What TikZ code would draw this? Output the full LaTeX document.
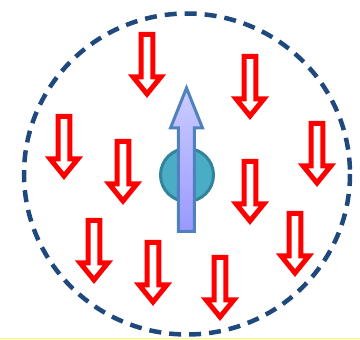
\documentclass[tikz,border=0pt]{standalone}
\usetikzlibrary{calc}
\definecolor{rimC}{HTML}{1F497D}
\definecolor{fieldR}{HTML}{FF0000}
\definecolor{coreF}{HTML}{4BACC6}
\definecolor{coreD}{HTML}{31849B}
\definecolor{spinD}{HTML}{4F81BD}
\definecolor{spinT}{HTML}{CCCCFF}
\definecolor{spinB}{HTML}{9999FF}
\definecolor{baseY}{HTML}{FFFF66}
\tikzset{
  rim/.style={draw=rimC, line width=4.5pt, dash pattern=on 12pt off 8pt},
  fieldarr/.style={draw=fieldR, fill=white, line width=5pt, line join=miter},
  core/.style={draw=coreD, fill=coreF, line width=3pt},
  spinarr/.style={draw=spinD, line width=3pt, top color=spinT, bottom color=spinB, line join=miter},
  redarr/.pic={
    \path[fieldarr] (-5.8,2.5) -- (-5.8,45) -- (-13.8,45) -- (0,62)
      -- (13.8,45) -- (5.8,45) -- (5.8,2.5) -- cycle;
  },
}

\begin{document}
\begin{tikzpicture}[x=1pt,y=-1pt]
\useasboundingbox (0,0) rectangle (360,340);

% ===================== baseline and rim =====================================
\draw[baseY, line width=1pt] (0,338.5) -- (360,338.5);
\draw[rim] (187,174) ellipse [x radius=163, y radius=160.5];

% ===================== field arrows (pointing down) =========================
\foreach \px/\py [count=\i] in {147/32, 250/54, 64/114, 123/139, 317/121,
                               250/159, 94/218, 153/240, 220/255, 295/211}
  \pic (fa\i) at (\px,\py) {redarr};

% ===================== central particle and its spin ========================
\node[core, circle, minimum size=53pt, inner sep=0pt] (core) at (187,175) {};
\path[spinarr] (178.5,231.5) -- (178.5,128) -- (170.5,128) -- (186.5,88)
  -- (202.5,128) -- (194.5,128) -- (194.5,231.5) -- cycle;

\end{tikzpicture}
\end{document}
